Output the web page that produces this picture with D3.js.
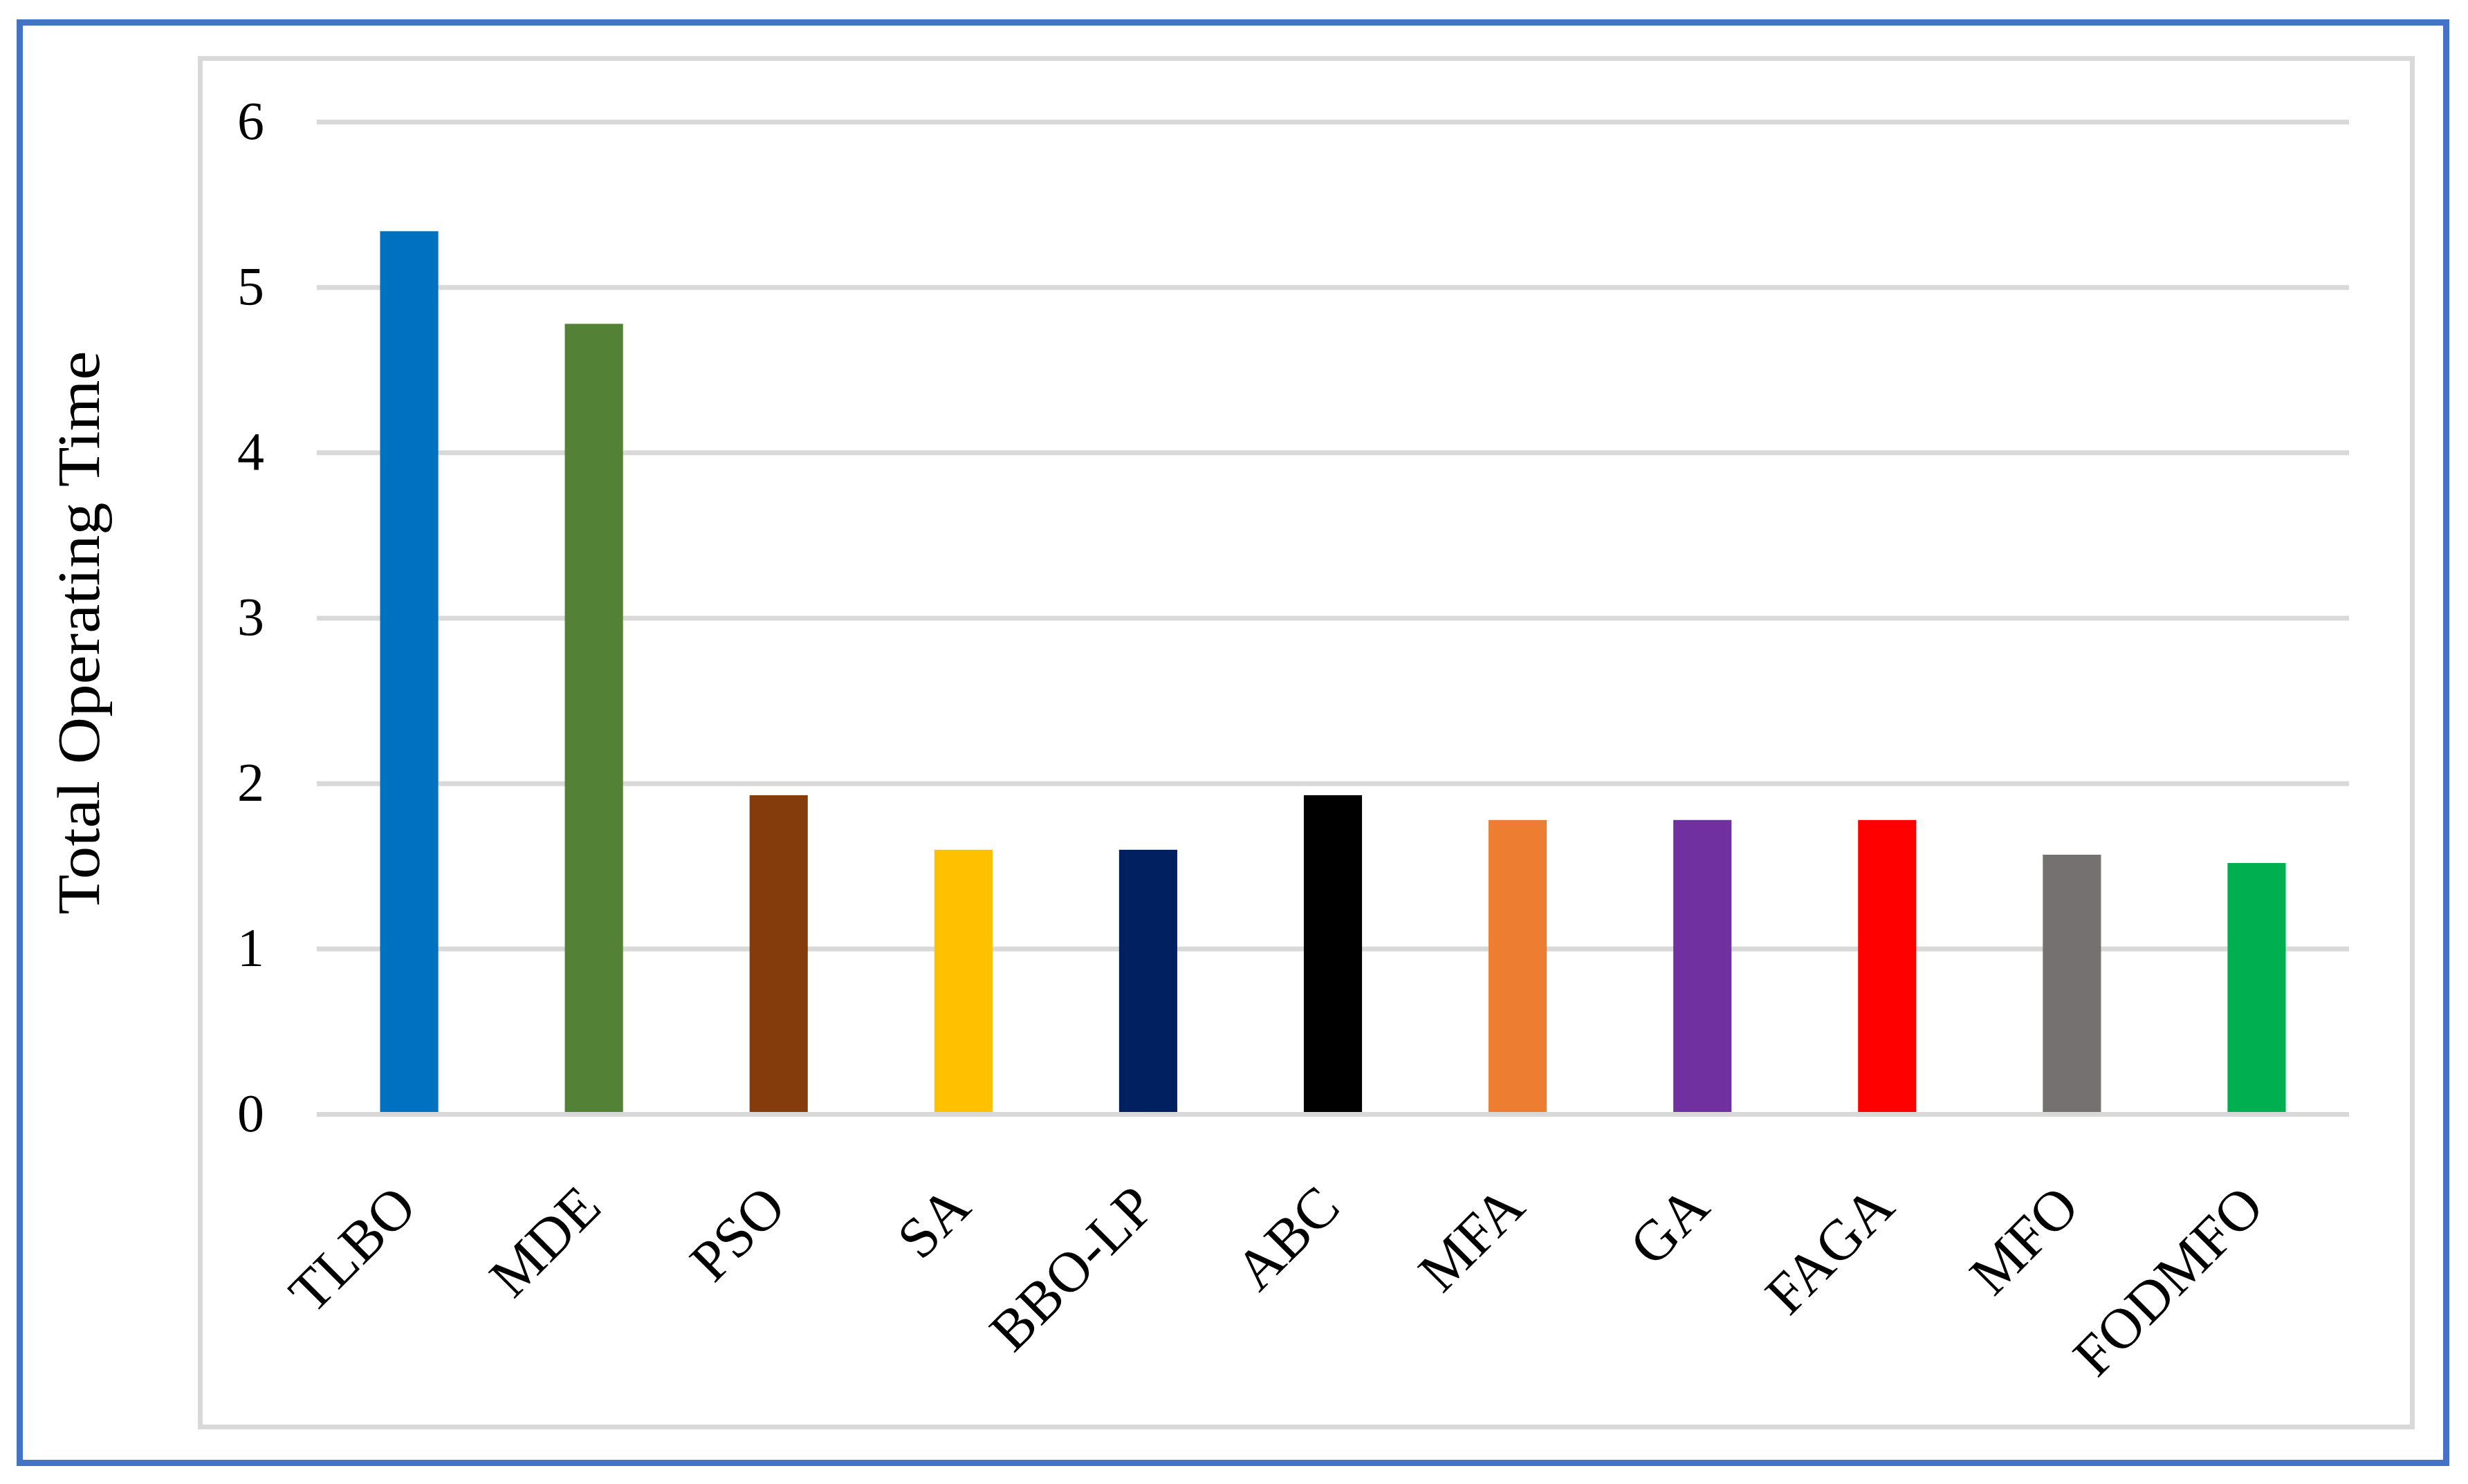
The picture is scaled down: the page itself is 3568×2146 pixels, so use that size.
<!DOCTYPE html>
<html>
<head>
<meta charset="utf-8">
<script src="https://cdn.jsdelivr.net/npm/d3@7"></script>
<style>
  body { margin: 0; background: #fff; }
  text { font-family: 'Liberation Serif', 'DejaVu Serif', serif; fill: #000; }
</style>
</head>
<body>
<svg id="canvas" width="3568" height="2146"></svg>
<script>
// data
let methods = ['TLBO', 'MDE', 'PSO', 'SA', 'BBO-LP', 'ABC', 'MFA', 'GA', 'FAGA', 'MFO', 'FODMFO']
let opTime = [5.34, 4.78, 1.93, 1.60, 1.60, 1.93, 1.78, 1.78, 1.78, 1.57, 1.52]
let barColors = ['#0070C0', '#538135', '#843C0C', '#FFC000', '#002060', '#000000',
                 '#ED7D31', '#7030A0', '#FF0000', '#767171', '#00B050']
let yTicks = [0, 1, 2, 3, 4, 5, 6]
let yTitle = 'Total Operating Time'

let canvas = d3.select('#canvas')

// outer blue frame + grey chart area border
canvas.append('rect')
    .attr('x', 28.5).attr('y', 32.5)
    .attr('width', 3508).attr('height', 2083)
    .attr('fill', 'none')
    .attr('stroke', '#4472C4')
    .attr('stroke-width', 9)

canvas.append('rect')
    .attr('x', 289.5).attr('y', 84.5)
    .attr('width', 3198).attr('height', 1979)
    .attr('fill', 'none')
    .attr('stroke', '#D9D9D9')
    .attr('stroke-width', 7)

let xScale = d3.scaleBand()
    .domain(methods)
    .range([458, 3396])
    .paddingInner(0.685)
    .paddingOuter(0.3425)

let yScale = d3.scaleLinear()
    .domain([0, 6])
    .range([1611.5, 176.5])

// gridlines
canvas.selectAll('.grid')
    .data(yTicks.filter(t => t > 0))
    .enter()
    .append('line')
    .attr('class', 'grid')
    .attr('x1', 458).attr('x2', 3396)
    .attr('y1', (t) => yScale(t))
    .attr('y2', (t) => yScale(t))
    .attr('stroke', '#D9D9D9')
    .attr('stroke-width', 7)

// bars
canvas.selectAll('.bar')
    .data(methods)
    .enter()
    .append('rect')
    .attr('class', 'bar')
    .attr('x', (m) => xScale(m))
    .attr('width', xScale.bandwidth())
    .attr('y', (m, i) => yScale(opTime[i]))
    .attr('height', (m, i) => yScale(0) - yScale(opTime[i]))
    .attr('fill', (m, i) => barColors[i])

// baseline
canvas.append('line')
    .attr('x1', 458).attr('x2', 3396)
    .attr('y1', yScale(0)).attr('y2', yScale(0))
    .attr('stroke', '#D9D9D9')
    .attr('stroke-width', 7)

// y tick labels
canvas.selectAll('.ytick')
    .data(yTicks)
    .enter()
    .append('text')
    .attr('class', 'ytick')
    .attr('x', 382)
    .attr('y', (t) => yScale(t) + 24)
    .attr('text-anchor', 'end')
    .attr('font-size', 78)
    .text((t) => t)

// category labels, rotated
canvas.selectAll('.xlab')
    .data(methods)
    .enter()
    .append('text')
    .attr('class', 'xlab')
    .attr('text-anchor', 'end')
    .attr('font-size', 83)
    .attr('transform', (m) => {
        let cx = xScale(m) + xScale.bandwidth() / 2 + 14
        return 'translate(' + cx + ',' + (yScale(0) + 138) + ') rotate(-45)'
    })
    .text((m) => m)

// y axis title
canvas.append('text')
    .attr('text-anchor', 'middle')
    .attr('font-size', 87)
    .attr('textLength', 815)
    .attr('lengthAdjust', 'spacingAndGlyphs')
    .attr('transform', 'translate(143,915) rotate(-90)')
    .text(yTitle)
</script>
</body>
</html>
